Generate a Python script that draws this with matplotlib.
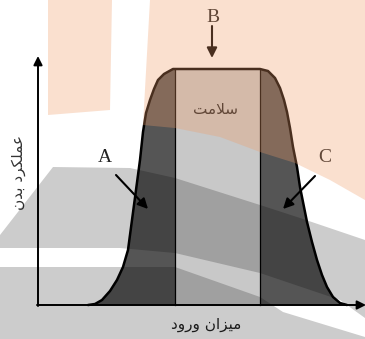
"""Concept sketch: body performance vs. intake, with a watermark tint on top."""

import matplotlib.pyplot as plt
from matplotlib.patches import Polygon

# curve outline (pixel coords, y grows downward)
left_x = [88, 95, 102, 110, 117, 123, 128, 132, 136, 140, 143, 146, 150, 154, 158, 164, 173]
left_y = [305, 304, 300, 291, 280, 267, 250, 220, 190, 160, 132, 113, 100, 89, 80, 74, 69]
right_x = [260, 268, 275, 280, 284, 287, 290, 293, 297, 300, 304, 307, 312, 317, 322, 327, 333, 340, 347]
right_y = [69, 71, 78, 88, 100, 112, 128, 147, 167, 187, 207, 222, 242, 260, 275, 287, 297, 303, 305]
base_y = 305
healthy_band = [175, 260]

# labels (Arabic script given in presentation forms, visual order)
label_healthy = "\ufe96\ufee3\ufefc\ufeb3"                            # سلامت
label_xaxis = "\ufea9\ufeed\ufead\ufeed \ufee5\ufe8d\ufeb0\ufef4\ufee3"   # میزان ورود
label_yaxis = "\ufee5\ufeaa\ufe91 \ufea9\ufeae\ufedc\ufee0\ufee4\ufecb"   # عملکرد بدن
zone_labels = ["A", "B", "C"]

# watermark shapes drawn over the sketch
peach_shapes = [
    [(48, 0), (112, 0), (110, 110), (48, 115)],
    [(150, 0), (365, 0), (365, 200), (330, 180), (295, 163), (260, 152),
     (220, 137), (175, 128), (143, 125)],
]
grey_shapes = [
    [(0, 235), (53, 167), (130, 168), (175, 178), (260, 205), (300, 218),
     (365, 240), (365, 318), (340, 300), (260, 273), (175, 253), (120, 248), (0, 248)],
    [(0, 267), (175, 267), (260, 297), (283, 312), (365, 337), (365, 339), (0, 339)],
]

fig = plt.figure(figsize=(3.65, 3.39), dpi=100)
ax = fig.add_axes([0, 0, 1, 1])
ax.set_xlim(0, 365)
ax.set_ylim(339, 0)
ax.axis("off")

# bell-like performance region
outline_x = left_x + right_x
outline_y = left_y + right_y
ax.fill(outline_x + [left_x[0]], outline_y + [base_y], color="#555555", lw=0, zorder=1)
ax.fill_between(healthy_band, [left_y[-1]] * 2, [base_y] * 2, color="#c8c8c8", lw=0, zorder=2)
ax.plot(outline_x, outline_y, color="black", lw=1.8, zorder=4, solid_capstyle="round")
for xv in healthy_band:
    ax.plot([xv, xv], [left_y[-1], base_y], color="black", lw=0.9, zorder=3)

# axes with arrow heads
axis_arrow = dict(arrowstyle="-|>", color="black", lw=1.4, mutation_scale=13,
                  shrinkA=0, shrinkB=0)
ax.annotate("", xy=(366, base_y), xytext=(37, base_y), arrowprops=axis_arrow,
            annotation_clip=False, zorder=5)
ax.annotate("", xy=(38, 56), xytext=(38, base_y + 1), arrowprops=axis_arrow, zorder=5)

# zone labels and pointers
pointer = dict(arrowstyle="-|>", color="black", lw=1.5, mutation_scale=15,
               shrinkA=0, shrinkB=0)
ax.annotate("", xy=(148, 209), xytext=(116, 175), arrowprops=pointer, zorder=5)
ax.annotate("", xy=(212, 58), xytext=(212, 26), arrowprops=pointer, zorder=5)
ax.annotate("", xy=(283, 209), xytext=(315, 176), arrowprops=pointer, zorder=5)
for text, (tx, ty) in zip(zone_labels, [(105, 158), (213, 17), (325, 157)]):
    ax.text(tx, ty, text, family="Liberation Serif", fontsize=14, color="#222222",
            ha="center", va="center", zorder=5)

ax.text(216, 110, label_healthy, family=["DejaVu Sans"], fontsize=11,
        color="#222222", ha="center", va="center", zorder=5)
ax.text(206, 324, label_xaxis, family=["DejaVu Sans"], fontsize=11,
        color="#222222", ha="center", va="center", zorder=5)
ax.text(19, 173, label_yaxis, family=["DejaVu Sans"], fontsize=11, rotation=90,
        color="#333333", ha="center", va="center", zorder=5)

# watermark tint
for pts in peach_shapes:
    ax.add_patch(Polygon(pts, closed=True, facecolor=(0.937, 0.608, 0.404),
                         alpha=0.31, lw=0, zorder=10))
for pts in grey_shapes:
    ax.add_patch(Polygon(pts, closed=True, facecolor="black", alpha=0.2, lw=0, zorder=10))

fig.savefig("out.png", dpi=100)
plt.close(fig)
